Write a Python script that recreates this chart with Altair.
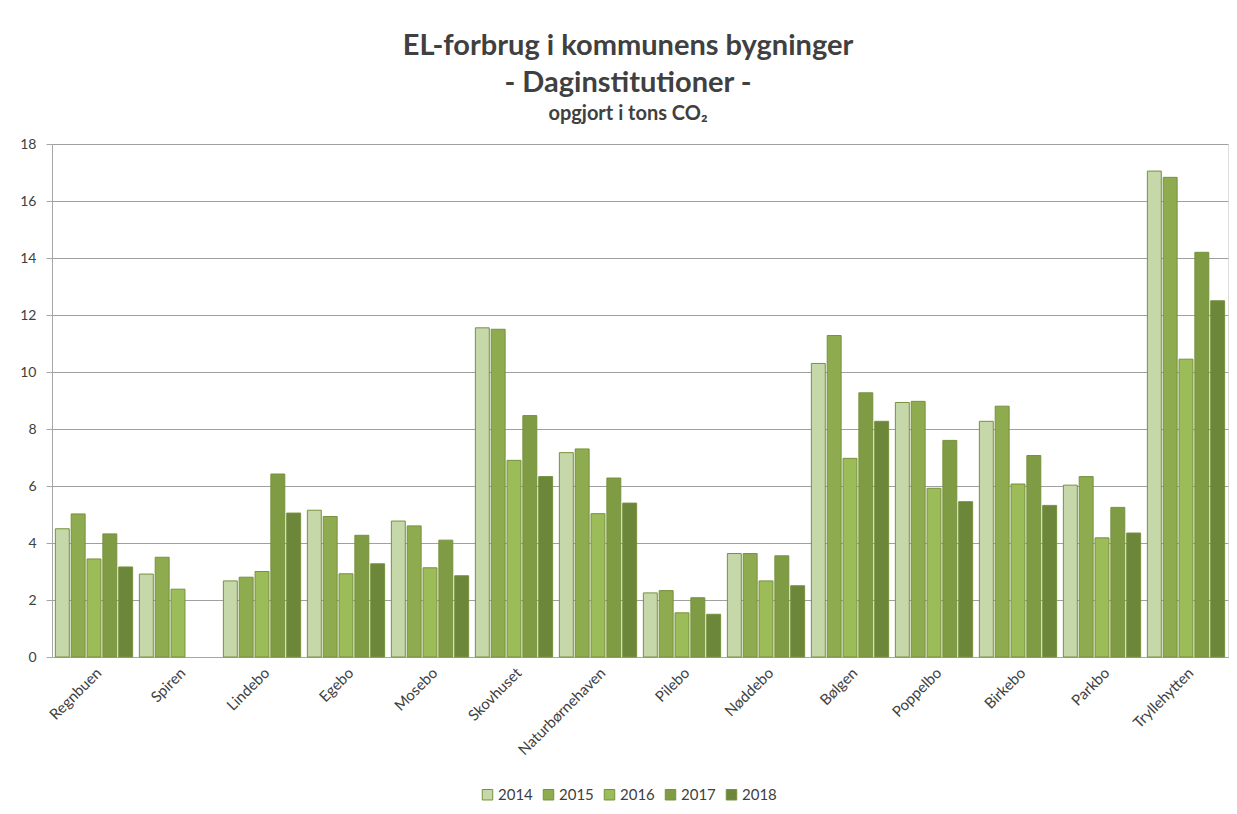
import altair as alt
import pandas as pd

institutions = ["Regnbuen", "Spiren", "Lindebo", "Egebo", "Mosebo", "Skovhuset",
                "Naturbørnehaven", "Pilebo", "Nøddebo", "Bølgen", "Poppelbo",
                "Birkebo", "Parkbo", "Tryllehytten"]
years = ["2014", "2015", "2016", "2017", "2018"]

v2014 = [4.50, 2.91, 2.67, 5.15, 4.77, 11.55, 7.17, 2.25, 3.63, 10.30, 8.93, 8.27, 6.03, 17.05]
v2015 = [5.02, 3.50, 2.80, 4.93, 4.60, 11.50, 7.30, 2.33, 3.63, 11.28, 8.97, 8.80, 6.33, 16.83]
v2016 = [3.44, 2.38, 3.00, 2.92, 3.13, 6.90, 5.03, 1.55, 2.67, 6.97, 5.92, 6.07, 4.18, 10.45]
v2017 = [4.32, None, 6.42, 4.27, 4.10, 8.47, 6.28, 2.08, 3.55, 9.27, 7.60, 7.07, 5.25, 14.20]
v2018 = [3.16, None, 5.05, 3.27, 2.85, 6.33, 5.40, 1.50, 2.50, 8.27, 5.45, 5.32, 4.35, 12.50]

colors = ["#c6d7aa", "#8eab50", "#9cbb59", "#7f9c45", "#6c863a"]

series = [v2014, v2015, v2016, v2017, v2018]
rows = []
for y, vals in zip(years, series):
    for name, v in zip(institutions, vals):
        if v is not None:
            rows.append({"inst": name, "year": y, "value": v})
df = pd.DataFrame(rows)

font = "Lato"

chart = alt.Chart(df).mark_bar(stroke="#76923c", strokeWidth=1).encode(
    x=alt.X("inst:N", sort=institutions, title=None,
            scale=alt.Scale(paddingInner=0.08, paddingOuter=0.04),
            axis=alt.Axis(labelAngle=-45, labelFontSize=15, labelColor="#404040",
                          labelFont=font, ticks=False, domainColor="#a6a6a6",
                          labelPadding=8, grid=False)),
    xOffset=alt.XOffset("year:N", sort=years, scale=alt.Scale(paddingInner=0.12, paddingOuter=0.0)),
    y=alt.Y("value:Q", title=None,
            scale=alt.Scale(domain=[0, 18], nice=False),
            axis=alt.Axis(values=list(range(0, 19, 2)), labelFontSize=14, labelColor="#404040",
                          labelFont=font, tickSize=6, tickColor="#a6a6a6",
                          domainColor="#a6a6a6", gridColor="#a0a0a0", labelPadding=10)),
    fill=alt.Fill("year:N", sort=years,
                  scale=alt.Scale(domain=years, range=colors),
                  legend=alt.Legend(title=None, orient="none", direction="horizontal",
                                    legendX=428, legendY=643, symbolType="square",
                                    symbolSize=110, symbolStrokeColor="#76923c",
                                    symbolStrokeWidth=1, labelFontSize=15,
                                    labelFont=font, labelColor="#404040",
                                    columnPadding=8, labelOffset=3, symbolOffset=0)),
).properties(
    width=1176,
    height=513,
    title=alt.TitleParams(
        text=["EL-forbrug i kommunens bygninger", "- Daginstitutioner -"],
        subtitle="opgjort i tons CO₂",
        fontSize=29, font=font, fontWeight="bold", color="#404040",
        lineHeight=37,
        subtitleFontSize=20, subtitleFont=font, subtitleFontWeight="bold",
        subtitleColor="#404040", subtitlePadding=6,
        anchor="middle", dx=-12, offset=13,
    ),
    autosize=alt.AutoSizeParams(type="none"),
    padding={"left": 44, "top": 136, "right": 1, "bottom": 150},
).configure_view(
    fill="#eff3e9", stroke=None
).configure(background="white")

chart.save("out.html", embed_options={"renderer": "svg", "actions": False})
